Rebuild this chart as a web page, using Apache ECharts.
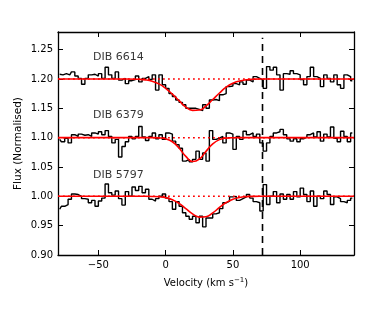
<!DOCTYPE html>
<html><head><meta charset="utf-8">
<script src="https://cdn.jsdelivr.net/npm/echarts@6/dist/echarts.min.js"></script>
<style>html,body{margin:0;padding:0;background:#fff}#c{width:369px;height:312px}</style>
</head><body><div id="c"></div>
<script>
// Velocity bin centres (km/s)
const velocity = [-78.75,-76.25,-73.75,-71.25,-68.75,-66.25,-63.75,-61.25,-58.75,-56.25,-53.75,-51.25,-48.75,-46.25,-43.75,-41.25,-38.75,-36.25,-33.75,-31.25,-28.75,-26.25,-23.75,-21.25,-18.75,-16.25,-13.75,-11.25,-8.75,-6.25,-3.75,-1.25,1.25,3.75,6.25,8.75,11.25,13.75,16.25,18.75,21.25,23.75,26.25,28.75,31.25,33.75,36.25,38.75,41.25,43.75,46.25,48.75,51.25,53.75,56.25,58.75,61.25,63.75,66.25,68.75,71.25,73.75,76.25,78.75,81.25,83.75,86.25,88.75,91.25,93.75,96.25,98.75,101.25,103.75,106.25,108.75,111.25,113.75,116.25,118.75,121.25,123.75,126.25,128.75,131.25,133.75,136.25,138.75];

const flux6614 = [1.208,1.207,1.209,1.207,1.212,1.205,1.201,1.191,1.201,1.207,1.208,1.205,1.209,1.201,1.220,1.207,1.201,1.212,1.198,1.201,1.192,1.197,1.199,1.205,1.195,1.201,1.204,1.199,1.207,1.181,1.207,1.190,1.184,1.175,1.170,1.164,1.160,1.156,1.150,1.150,1.150,1.148,1.146,1.156,1.150,1.164,1.165,1.163,1.173,1.175,1.187,1.188,1.192,1.190,1.195,1.191,1.198,1.195,1.204,1.201,1.198,1.184,1.221,1.215,1.220,1.207,1.181,1.209,1.208,1.214,1.209,1.207,1.199,1.190,1.204,1.220,1.204,1.201,1.187,1.207,1.201,1.195,1.207,1.190,1.184,1.207,1.204,1.197];

const flux6379 = [1.097,1.093,1.099,1.091,1.105,1.102,1.106,1.104,1.105,1.102,1.108,1.106,1.110,1.105,1.112,1.102,1.091,1.097,1.067,1.085,1.093,1.102,1.098,1.102,1.119,1.101,1.095,1.102,1.108,1.098,1.105,1.097,1.108,1.106,1.094,1.088,1.082,1.060,1.063,1.059,1.063,1.077,1.063,1.074,1.060,1.112,1.097,1.099,1.102,1.091,1.108,1.106,1.080,1.102,1.097,1.111,1.105,1.108,1.102,1.106,1.091,1.077,1.091,1.102,1.108,1.110,1.114,1.105,1.098,1.094,1.098,1.093,1.098,1.101,1.105,1.108,1.101,1.110,1.094,1.106,1.101,1.118,1.099,1.093,1.111,1.102,1.093,1.108];

const flux5797 = [0.978,0.983,0.986,0.995,1.004,1.003,1.000,0.996,0.995,0.989,0.993,0.983,0.992,0.997,1.021,1.006,1.002,1.009,0.996,0.985,1.008,1.000,1.016,1.010,1.017,1.006,1.012,0.995,0.992,0.996,1.000,1.004,0.997,0.991,0.978,0.991,0.983,0.972,0.966,0.961,0.966,0.955,0.966,0.948,0.963,0.963,0.970,0.972,0.979,0.989,0.992,0.999,1.000,0.993,0.996,0.999,1.003,0.997,0.991,0.989,0.975,1.020,0.986,1.000,1.008,0.989,1.004,0.995,1.003,0.995,1.008,0.999,1.014,1.003,0.991,1.009,0.983,1.000,0.996,1.009,1.003,0.986,0.999,0.996,0.991,0.989,0.993,0.997];

// Fitted profiles
const fitVelocity = [-80,-40,-30,-20,-15,-10,-5,0,5,10,15,20,25,30,35,40,45,50,55,60,65,70,80,100,140];
const fit6614 = [1.2,1.2,1.2,1.1994,1.1984,1.196,1.1916,1.184,1.174,1.163,1.152,1.1465,1.147,1.154,1.165,1.176,1.186,1.1927,1.1966,1.1986,1.1995,1.2,1.2,1.2,1.2];
const fit6379 = [1.1,1.1,1.1,1.1,1.1,1.1,1.0996,1.098,1.093,1.0822,1.068,1.0593,1.0633,1.0766,1.0894,1.0966,1.0992,1.0999,1.1,1.1,1.1,1.1,1.1,1.1,1.1];
const fit5797 = [1.0,1.0,1.0,1.0,1.0,0.9998,0.9992,0.9977,0.9942,0.988,0.979,0.970,0.9645,0.9652,0.9717,0.981,0.9894,0.9951,0.9981,0.9994,0.9999,1.0,1.0,1.0,1.0];

const continuum = [1.2, 1.1, 1.0];
const dibNames = ['DIB 6614', 'DIB 6379', 'DIB 5797'];
const dibLabelAt = [[-54, 1.2378], [-54, 1.1386], [-54, 1.0366]];
const markerVelocity = 72;
const markerSpan = [0.9, 1.27];

const xTicks = [-50, 0, 50, 100];
const yTicks = [0.90, 0.95, 1.00, 1.05, 1.10, 1.15, 1.20, 1.25];
const xRange = [-80, 140];
const yRange = [0.90, 1.28];

const FONT = 'DejaVu Sans';
const pair = (xs, ys) => xs.map((x, i) => [x, ys[i]]);

const stepSeries = [flux6614, flux6379, flux5797].map(f => ({
  type: 'line', step: 'middle', symbol: 'none', data: pair(velocity, f),
  lineStyle: {color: '#000', width: 1.4}, z: 2, silent: true
}));
const contSeries = continuum.map(c => ({
  type: 'line', symbol: 'none', data: [[xRange[0], c], [xRange[1], c]],
  lineStyle: {color: '#ff0000', width: 1.5, type: [1.8, 3.2]}, z: 3, silent: true
}));
const fitSeries = [fit6614, fit6379, fit5797].map(f => ({
  type: 'line', symbol: 'none', smooth: true, data: pair(fitVelocity, f),
  lineStyle: {color: '#ff0000', width: 1.6}, z: 4, silent: true
}));
const markerSeries = {
  type: 'line', symbol: 'none', data: [[markerVelocity, markerSpan[0]], [markerVelocity, markerSpan[1]]],
  lineStyle: {color: '#000', width: 1.6, type: [7, 5]}, z: 5, silent: true
};
const labelSeries = {
  type: 'scatter', symbolSize: 0.1, z: 6, silent: true,
  data: dibLabelAt.map((p, i) => ({value: p, name: dibNames[i]})),
  label: {show: true, position: 'right', distance: 0, formatter: p => p.name,
    fontFamily: FONT, fontSize: 11, color: '#000'}
};

const axisCommon = {
  type: 'value', splitLine: {show: false},
  axisLine: {show: true, onZero: false, lineStyle: {color: '#000', width: 1.3}},
};

const chart = echarts.init(document.getElementById('c'), null, {renderer: 'canvas'});
chart.setOption({
  animation: false,
  backgroundColor: '#fff',
  grid: {left: 58, right: 15, top: 32, bottom: 57, containLabel: false},
  xAxis: [
    Object.assign({}, axisCommon, {
      min: xRange[0], max: xRange[1], position: 'bottom',
      axisTick: {show: true, inside: true, length: 5, customValues: xTicks, lineStyle: {color: '#000', width: 1}},
      axisLabel: {show: true, margin: 5, customValues: xTicks, fontFamily: FONT, fontSize: 10, color: '#000',
        formatter: v => (v < 0 ? '\u2212' + Math.abs(v) : String(v))},
      name: 'Velocity (km s{sup|\u22121})', nameLocation: 'middle', nameGap: 22, nameMoveOverlap: false,
      nameTextStyle: {fontFamily: FONT, fontSize: 10, color: '#000',
        rich: {sup: {fontFamily: FONT, fontSize: 7, color: '#000', verticalAlign: 'top', padding: [0, 0, 5, 0]}}}
    }),
    Object.assign({}, axisCommon, {
      min: xRange[0], max: xRange[1], position: 'top',
      axisTick: {show: true, inside: true, length: 5, customValues: xTicks, lineStyle: {color: '#000', width: 1}},
      axisLabel: {show: false}
    })
  ],
  yAxis: [
    Object.assign({}, axisCommon, {
      min: yRange[0], max: yRange[1], position: 'left',
      axisTick: {show: true, inside: true, length: 5, customValues: yTicks, lineStyle: {color: '#000', width: 1}},
      axisLabel: {show: true, margin: 5, customValues: yTicks, fontFamily: FONT, fontSize: 10, color: '#000',
        formatter: v => v.toFixed(2)},
      name: 'Flux (Normalised)', nameLocation: 'middle', nameGap: 34, nameMoveOverlap: false,
      nameTextStyle: {fontFamily: FONT, fontSize: 10.5, color: '#000'}
    }),
    Object.assign({}, axisCommon, {
      min: yRange[0], max: yRange[1], position: 'right',
      axisTick: {show: true, inside: true, length: 5, customValues: yTicks, lineStyle: {color: '#000', width: 1}},
      axisLabel: {show: false}
    })
  ],
  series: [...stepSeries, ...contSeries, ...fitSeries, markerSeries, labelSeries]
});
</script></body></html>
